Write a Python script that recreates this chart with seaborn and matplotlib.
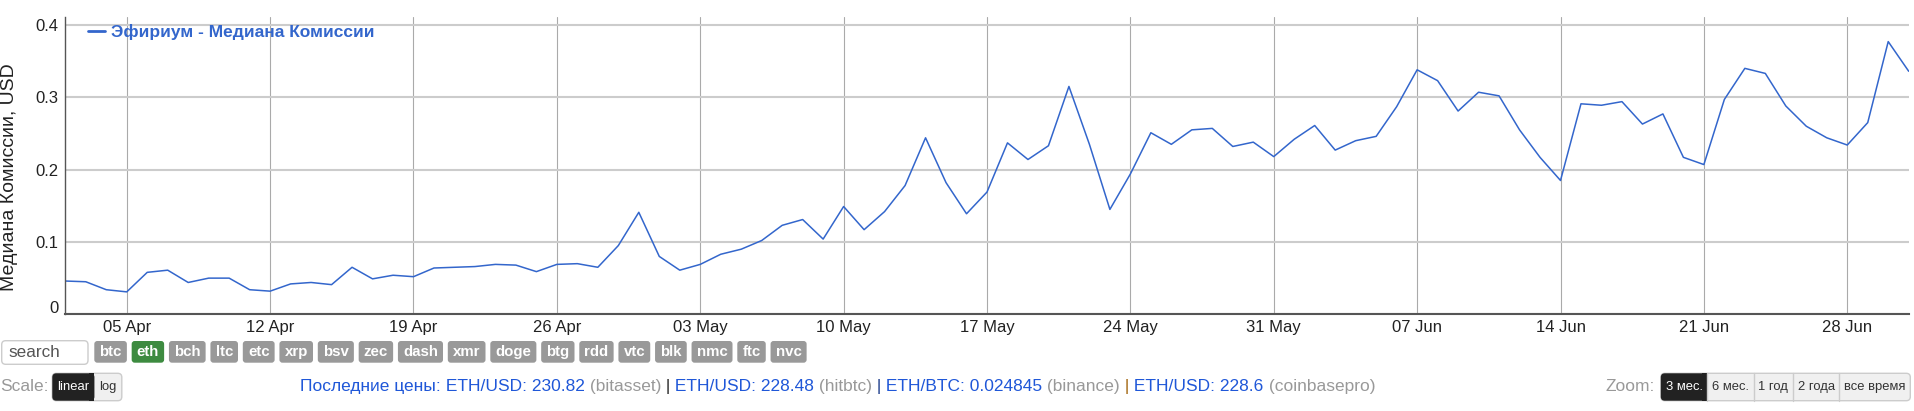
#!/usr/bin/env python3
"""
Ethereum median fee chart (Apr - Jul 2020) with the page controls underneath.
"""

import numpy as np
import pandas as pd
import matplotlib
matplotlib.use("Agg")
import matplotlib.pyplot as plt
import matplotlib.dates as mdates
from matplotlib.patches import FancyBboxPatch, Rectangle
from matplotlib.transforms import IdentityTransform, ScaledTranslation
from matplotlib import font_manager
import seaborn as sns

# ---- data ----
start_date = "2020-04-02"
median_fee = [
    # 02 Apr - 19 Apr
    0.046, 0.045, 0.034, 0.031, 0.058, 0.061, 0.044, 0.050, 0.050, 0.034,
    0.032, 0.042, 0.044, 0.041, 0.065, 0.049, 0.054, 0.052,
    # 20 Apr - 30 Apr
    0.064, 0.065, 0.066, 0.069, 0.068, 0.059, 0.069, 0.070, 0.065, 0.095, 0.141,
    # May
    0.080, 0.061, 0.069, 0.083, 0.090, 0.102, 0.123, 0.131, 0.104, 0.149,
    0.117, 0.142, 0.178, 0.244, 0.182, 0.139, 0.169, 0.237, 0.214, 0.233,
    0.315, 0.235, 0.145, 0.194, 0.251, 0.235, 0.255, 0.257, 0.232, 0.238, 0.218,
    # June
    0.242, 0.261, 0.227, 0.240, 0.246, 0.287, 0.338, 0.323, 0.281, 0.307,
    0.302, 0.255, 0.217, 0.185, 0.291, 0.289, 0.294, 0.263, 0.277, 0.217,
    0.207, 0.297, 0.340, 0.333, 0.288, 0.260, 0.244, 0.234, 0.265, 0.377,
    # 01 Jul
    0.336,
]
series_name = "Эфириум - Медиана Комиссии"
y_label = "Медиана Комиссии, USD"
y_ticks = [0, 0.1, 0.2, 0.3, 0.4]
y_tick_labels = ["0", "0.1", "0.2", "0.3", "0.4"]

coins = ["btc", "eth", "bch", "ltc", "etc", "xrp", "bsv", "zec", "dash", "xmr",
         "doge", "btg", "rdd", "vtc", "blk", "nmc", "ftc", "nvc"]
active_coin = "eth"
scale_options = ["linear", "log"]
zoom_options = ["3 мес.", "6 мес.", "1 год", "2 года", "все время"]
price_pairs = ["ETH/USD", "ETH/USD", "ETH/BTC", "ETH/USD"]
price_values = ["230.82", "228.48", "0.024845", "228.6"]
price_sources = ["bitasset", "hitbtc", "binance", "coinbasepro"]

# ---- style ----
sns.set_style("white")
plt.rcParams["font.family"] = ["Liberation Sans", "DejaVu Sans"]
names = {f.name for f in font_manager.fontManager.ttflist}
narrow = "Liberation Sans Narrow" if "Liberation Sans Narrow" in names else "Liberation Sans"

W, H = 1915, 411
BLUE = "#3366cc"

fig = plt.figure(figsize=(W / 100, H / 100), dpi=100)
ax_l, ax_r, ax_t, ax_b = 65.3, 1908.7, 17, 314.3
ax = fig.add_axes([ax_l / W, (H - ax_b) / H, (ax_r - ax_l) / W, (ax_b - ax_t) / H])

df = pd.DataFrame({
    "date": pd.date_range(start_date, periods=len(median_fee), freq="D"),
    "fee": median_fee,
})
sns.lineplot(data=df, x="date", y="fee", ax=ax, color=BLUE, linewidth=1.1,
             label=series_name)

ax.set_xlim(df["date"].iloc[0], df["date"].iloc[-1])
ax.set_ylim(0, 0.411)
ax.set_yticks(y_ticks)
ax.set_yticklabels(y_tick_labels)
ax.xaxis.set_major_locator(mdates.WeekdayLocator(byweekday=mdates.SU))
ax.xaxis.set_major_formatter(mdates.DateFormatter("%d %b"))
ax.set_xlabel("")
ax.set_ylabel("")

ax.yaxis.grid(True, color="#cccccc", linewidth=1.5)
ax.xaxis.grid(True, color="#aaaaaa", linewidth=0.8)
ax.set_axisbelow(True)
for side in ("top", "right"):
    ax.spines[side].set_visible(False)
ax.spines["left"].set_color("#555555")
ax.spines["left"].set_linewidth(1.0)
ax.spines["bottom"].set_color("#555555")
ax.spines["bottom"].set_linewidth(1.5)
ax.tick_params(axis="both", length=0, labelsize=12, labelcolor="#222222")
ax.tick_params(axis="x", pad=4)
ax.tick_params(axis="y", pad=5)

# the "0" label sits a little above the baseline, as in the original
zero_lbl = ax.get_yticklabels()[0]
zero_lbl.set_transform(zero_lbl.get_transform()
                       + ScaledTranslation(0, 7 / 100, fig.dpi_scale_trans))

fig.text(1, H - 177.5, y_label, rotation=90, ha="left", va="center",
         fontsize=14, color="#222222", transform=IdentityTransform())

axw, axh = ax_r - ax_l, ax_b - ax_t
leg = ax.legend(loc="center left",
                bbox_to_anchor=((88 - ax_l) / axw, (ax_b - 32) / axh),
                frameon=False, borderpad=0, borderaxespad=0,
                handlelength=1.0, handletextpad=0.35,
                prop={"weight": "bold", "size": 12.5})
for t in leg.get_texts():
    t.set_color(BLUE)
leg.get_lines()[0].set_linewidth(2.0)

# ---- page controls under the chart ----
renderer = fig.canvas.get_renderer()
px = IdentityTransform()


def text_px(x, y_top, s, **kw):
    return fig.text(x, H - y_top, s, transform=px, **kw)


def width_of(s, **kw):
    t = fig.text(0, 0, s, transform=px, **kw)
    w = t.get_window_extent(renderer).width
    t.remove()
    return w


def rbox(x, y_top, w, h, fc, ec="none", r=3.0, lw=1.0):
    p = FancyBboxPatch((x, H - y_top - h), w, h,
                       boxstyle=f"round,pad=0,rounding_size={r}",
                       fc=fc, ec=ec, lw=lw, transform=px)
    fig.add_artist(p)
    return p


# search box
rbox(1.7, 340.7, 86.3, 23.6, "white", ec="#cccccc", r=4)
text_px(8, 352.5, "search", ha="left", va="center", fontsize=12.3, color="#555555")

# coin buttons
btn_kw = dict(fontsize=10.8, weight="bold")
x = 94.3
for c in coins:
    w = width_of(c, **btn_kw) + 10.2
    rbox(x, 341, w, 21.7, "#3d8b40" if c == active_coin else "#999999", r=3)
    text_px(x + w / 2, 351.9, c, ha="center", va="center", color="white", **btn_kw)
    x += w + 4.8

# scale toggle
text_px(0, 386, "Scale:", ha="left", va="center", fontsize=12.5, color="#999999")
sc_kw = dict(fontsize=11.5 if narrow != "Liberation Sans" else 9.4, family=narrow)
sw = [width_of(s, **sc_kw) + 10 for s in scale_options]
x0 = 52.3
rbox(x0, 373.3, sum(sw), 27.4, "#f0f0f0", ec="#cccccc", r=4)
rbox(x0, 373.3, sw[0], 27.4, "#222222", r=4)
fig.add_artist(Rectangle((x0 + sw[0] - 5, H - 373.3 - 27.4), 5, 27.4,
                         fc="#222222", ec="none", transform=px))
x = x0
for i, s in enumerate(scale_options):
    text_px(x + sw[i] / 2, 387, s, ha="center", va="center",
            color="white" if i == 0 else "#333333", **sc_kw)
    x += sw[i]

# latest prices line
runs = [("Последние цены:", "#1f57d8")]
sep_colors = ["#222222", "#1a3a8a", "#a0620a"]
for i, (pair, val, src) in enumerate(zip(price_pairs, price_values, price_sources)):
    if i > 0:
        runs.append((" |", sep_colors[i - 1]))
    runs.append((f" {pair}: {val}", "#1f57d8"))
    runs.append((f" ({src})", "#999999"))
pr_kw = dict(fontsize=12.55)
prefix = ""
for s, col in runs:
    xo = 300 + (width_of(prefix, **pr_kw) if prefix else 0)
    text_px(xo, 386, s, ha="left", va="center", color=col, **pr_kw)
    prefix += s

# zoom buttons
zw = [width_of(s, **sc_kw) + 9.4 for s in zoom_options]
zx0 = 1910.3 - sum(zw)
text_px(zx0 - 5.6, 386, "Zoom:", ha="right", va="center", fontsize=12.5, color="#999999")
rbox(zx0, 373.3, sum(zw), 27.4, "#f0f0f0", ec="#cccccc", r=4)
rbox(zx0, 373.3, zw[0], 27.4, "#222222", r=4)
fig.add_artist(Rectangle((zx0 + zw[0] - 5, H - 373.3 - 27.4), 5, 27.4,
                         fc="#222222", ec="none", transform=px))
x = zx0
for i, s in enumerate(zoom_options):
    text_px(x + zw[i] / 2, 387, s, ha="center", va="center",
            color="white" if i == 0 else "#333333", **sc_kw)
    if i > 0:
        fig.add_artist(plt.Line2D([x, x], [H - 373.3 - 27.4, H - 373.3],
                                  color="#cccccc", lw=1, transform=px))
    x += zw[i]

fig.savefig("out.png", dpi=100)
print("saved out.png")
